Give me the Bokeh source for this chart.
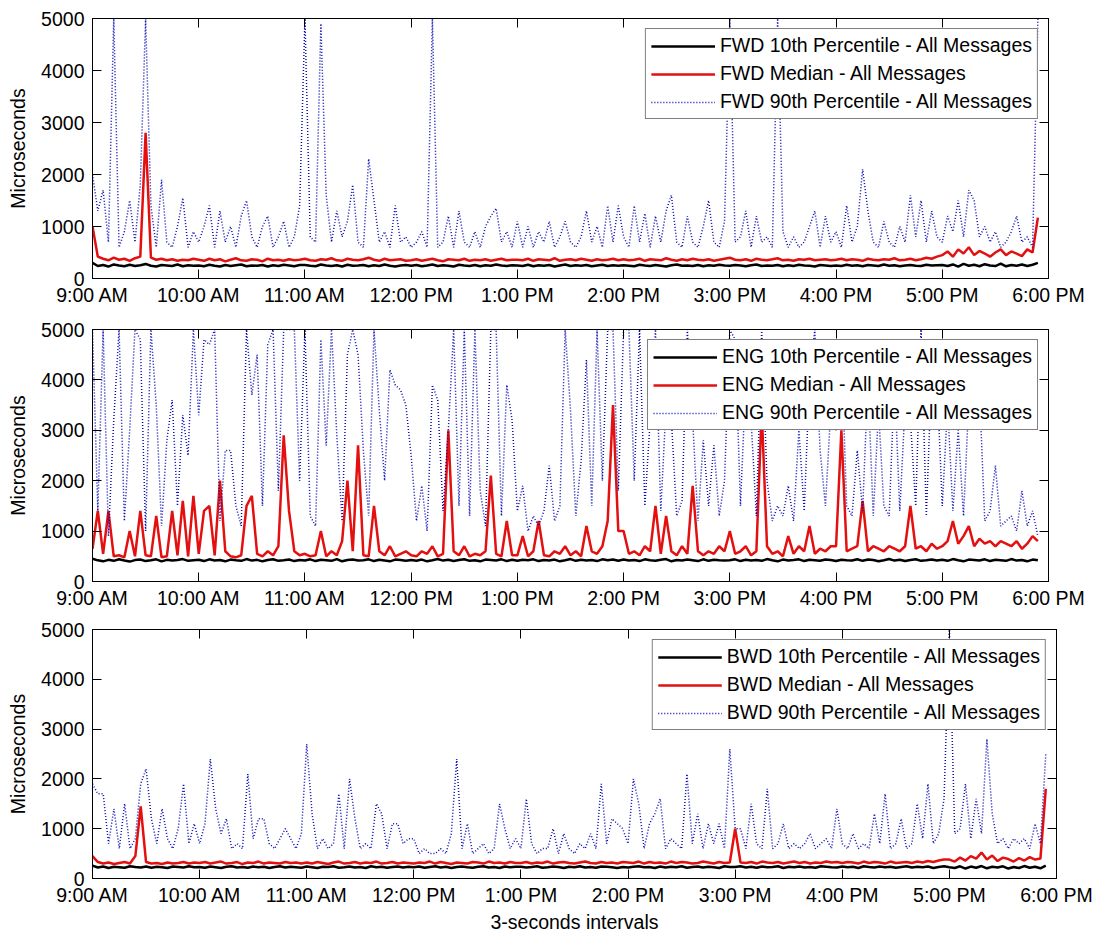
import numpy as np
from bokeh.plotting import figure
from bokeh.layouts import column
from bokeh.models import FixedTicker, LinearAxis, Legend, LegendItem, Range1d
from bokeh.embed import file_html
from bokeh.resources import INLINE

# ---------------- data ----------------
TICK_HOURS = [9, 10, 11, 12, 13, 14, 15, 16, 17, 18]
TICK_LABELS = ["9:00 AM", "10:00 AM", "11:00 AM", "12:00 PM", "1:00 PM",
               "2:00 PM", "3:00 PM", "4:00 PM", "5:00 PM", "6:00 PM"]
Y_TICKS = [0, 1000, 2000, 3000, 4000, 5000]
START_HOUR = 9
SLOT_MINUTES = 3  # one value read per 3-minute slot

FWD_P10 = [300,240,260,230,270,250,235,265,240,255,280,245,230,260,250,240,270,235,255,245,
           250,235,265,245,230,260,240,255,270,235,250,245,260,230,255,240,265,250,235,260,
           260,245,235,270,250,240,255,230,265,245,250,260,235,255,240,270,245,230,250,260,
           245,260,235,250,270,240,255,245,230,265,250,240,260,235,255,245,270,250,240,255,
           250,240,265,235,255,245,260,230,250,270,240,255,245,260,235,250,265,240,255,245,
           255,245,235,265,250,240,260,245,230,255,270,245,250,240,260,235,255,245,265,250,
           245,260,250,235,255,270,240,250,245,260,235,255,240,265,250,245,230,260,250,240,
           250,240,265,245,255,235,260,250,240,270,245,255,235,250,260,245,240,265,250,255,
           260,240,270,230,280,245,265,235,275,250,240,285,235,260,245,270,240,265,300]
FWD_MED = [1000,420,380,350,400,360,380,340,390,420,2800,400,360,380,350,370,340,360,350,380,
           360,340,380,350,370,330,360,390,350,340,370,360,330,380,350,360,340,370,350,360,
           380,350,340,370,360,390,350,340,380,360,350,370,400,360,340,380,350,360,370,340,
           350,370,340,360,380,350,330,370,360,350,380,340,360,350,370,340,360,380,350,360,
           360,350,380,340,370,360,350,390,340,360,370,350,380,360,340,370,350,360,380,350,
           370,350,360,380,340,370,360,350,390,360,340,370,350,380,360,350,370,340,360,380,
           400,360,350,370,340,380,360,350,370,390,350,360,340,370,360,380,350,360,370,350,
           360,380,350,370,360,340,380,360,350,370,360,390,350,360,380,350,370,400,380,420,
           450,520,420,560,480,600,450,530,480,420,500,560,450,520,480,430,560,500,1170]
FWD_P90 = [2000,1300,1700,700,5000,600,900,1500,700,1800,5000,1400,600,1900,700,600,1000,1550,600,900,
           700,1000,1400,600,1300,700,1000,600,1200,1500,800,600,1000,1200,600,800,1100,600,800,1400,
           5000,800,700,4900,1600,700,1300,800,1100,1800,700,600,2300,1500,700,900,600,1400,700,800,
           600,700,900,600,5000,600,700,1200,600,1300,700,600,900,600,1000,1200,1350,700,900,600,
           1100,600,1000,600,900,700,1100,600,800,1100,700,600,800,1300,700,1000,600,1400,700,1400,
           800,600,1400,700,1250,600,1200,700,1300,1600,700,600,1200,700,600,1000,1500,700,600,1100,
           5000,700,800,1300,600,1200,700,800,600,5000,900,600,800,600,700,1000,1300,600,1200,700,
           900,600,1400,700,1000,2100,1300,700,600,1100,700,600,1000,700,1600,800,1500,700,1300,800,
           700,1200,900,1500,800,1700,1500,800,1000,700,900,600,700,900,1200,700,800,600,5000]

ENG_P10 = [450,420,400,430,410,440,415,395,425,435,405,420,440,400,430,415,425,445,410,420,
           430,405,440,415,425,400,435,420,410,445,415,430,400,425,440,410,420,435,405,425,
           415,440,405,430,420,410,445,400,425,435,415,420,440,405,430,415,400,435,425,410,
           425,410,435,400,420,445,415,430,405,425,440,410,420,400,435,425,415,440,405,430,
           410,430,420,440,405,425,415,435,400,420,445,410,430,415,425,405,440,420,435,410,
           435,415,425,405,440,420,410,430,445,400,425,415,435,420,405,440,410,430,420,415,
           420,440,405,430,415,425,410,445,420,400,435,415,425,440,405,430,420,410,435,425,
           405,430,420,415,440,410,435,425,400,420,445,415,430,405,425,440,410,420,435,415,
           430,410,445,420,400,435,425,415,440,405,430,420,410,445,415,425,400,435,420]
ENG_MED = [650,1400,550,1400,500,520,480,1000,500,1400,520,500,1300,480,500,1400,520,1600,500,1700,
           550,1400,1500,520,2000,600,500,480,520,1500,1700,550,500,600,520,700,2900,1400,600,520,
           550,500,520,1000,500,600,520,800,2000,600,2700,520,500,1500,600,520,700,500,550,600,
           520,500,600,550,700,500,550,3000,600,520,700,500,550,520,600,2100,550,500,1200,520,
           520,900,500,600,1200,520,500,600,550,700,520,600,500,1100,600,550,700,1200,3500,1000,
           1000,550,600,520,700,600,1500,550,1300,600,520,700,550,1900,600,520,600,550,700,600,
           1000,550,600,700,520,600,3400,700,550,600,500,900,550,700,600,1100,550,650,600,700,
           700,3000,600,650,700,1600,600,700,650,600,700,650,600,700,1500,650,700,600,750,650,
           700,800,1200,750,900,1100,700,850,750,800,700,800,750,700,800,650,750,900,800]
ENG_P90 = [5000,1400,5000,900,3200,5000,1200,3000,5000,4800,1000,5000,3500,1100,2800,3600,1500,3300,2500,5000,
           3300,4800,4700,5000,1200,2600,2600,1500,1100,5000,3700,4500,1500,4700,5000,1800,5000,5000,5000,2000,
           5000,1300,1100,4800,2700,5000,2900,1200,4500,5000,4500,2600,1300,5000,3400,2000,4200,3900,3800,3500,
           2500,1200,1900,1000,3900,3600,1400,3000,5000,1500,5000,1300,5000,1800,1100,5000,5000,1300,3900,3200,
           1400,1900,1000,1300,1100,1400,2300,1200,1500,5000,3400,1300,2400,4400,1500,5000,2000,5000,5000,1800,
           5000,5000,2000,5000,1500,3200,5000,1400,3500,3200,1300,1600,5000,3200,1200,2800,1500,2700,1300,2000,
           5000,4800,1500,4000,3200,1300,5000,2000,1200,1500,1300,1900,1200,3000,1400,4000,5000,2600,1500,3400,
           3000,4600,1500,1300,2600,1400,4000,1300,3400,1500,1300,4000,1400,3500,3200,1500,5000,1300,4200,4000,
           1500,3500,1400,3000,1300,3600,4000,3800,1200,1400,2300,1100,1200,1300,1000,1800,1100,1400,900]

BWD_P10 = [260,220,240,210,235,225,215,245,230,220,240,215,235,225,210,240,230,220,245,225,
           230,215,240,225,210,235,245,220,230,215,240,225,235,210,230,245,220,235,225,215,
           240,225,210,235,230,245,215,225,240,220,230,210,245,225,235,215,230,240,220,235,
           225,240,215,230,245,220,235,210,230,240,225,215,235,245,220,230,210,240,225,235,
           235,220,230,245,215,225,240,230,210,235,225,245,220,230,215,240,235,225,210,230,
           220,235,245,225,230,210,240,220,235,225,245,215,230,240,220,235,225,210,245,230,
           230,245,220,235,215,240,225,230,245,210,235,225,240,220,230,215,245,235,225,220,
           240,225,235,210,245,230,220,240,225,235,215,230,245,220,235,225,240,210,230,245,
           225,210,245,200,240,215,250,205,235,220,245,200,230,210,250,215,235,205,260]
BWD_MED = [450,330,300,320,290,310,330,300,450,1450,330,300,310,290,320,300,310,330,300,320,
           310,330,300,320,340,300,310,330,290,320,310,340,300,320,310,300,330,310,320,300,
           320,300,330,310,290,320,340,300,310,330,300,320,310,340,300,310,330,300,320,310,
           300,320,310,340,300,330,310,290,320,310,300,330,320,300,340,310,320,300,330,310,
           310,330,300,320,310,340,300,320,330,310,300,320,340,310,300,330,310,320,300,330,
           320,310,340,300,330,310,320,300,340,310,330,320,300,310,340,320,300,330,310,320,
           1000,320,310,330,300,340,320,310,330,300,320,340,310,330,300,320,310,340,320,330,
           310,330,320,300,340,310,330,320,300,340,310,320,330,310,340,320,350,330,360,380,
           380,340,420,360,450,400,520,380,460,350,420,390,340,410,360,430,380,400,1800]
BWD_P90 = [1900,1700,1700,700,1400,600,1500,600,800,1900,2200,1200,700,1400,800,600,1000,1900,700,1100,
           700,1100,2400,1400,900,1200,600,700,600,2100,800,1200,1200,700,600,800,1000,800,600,900,
           2700,1300,600,800,600,700,1700,600,2000,1200,600,700,600,1500,1300,600,1100,1100,700,800,
           800,500,600,500,500,600,500,900,2400,600,1100,500,600,700,500,600,1500,1000,600,800,
           600,1600,700,500,600,600,1000,500,900,600,500,700,600,900,600,1900,700,1200,1100,1000,
           700,2000,1500,600,1100,1300,1600,600,800,700,600,2100,700,1300,600,1100,700,1100,600,2600,
           1000,1000,600,1500,700,600,1800,600,700,1100,600,700,600,700,900,600,700,800,600,1400,
           700,600,900,600,700,600,1300,700,1700,600,700,1200,600,700,1500,800,1900,700,900,1600,
           5000,900,1000,1900,800,1600,900,2800,1300,700,800,600,800,700,800,600,1100,700,2500]

PANELS = [("FWD", FWD_P10, FWD_MED, FWD_P90),
          ("ENG", ENG_P10, ENG_MED, ENG_P90),
          ("BWD", BWD_P10, BWD_MED, BWD_P90)]

# ---------------- styling ----------------
FONT = "Liberation Sans"
FS = "19.5px"
BLACK = "#000000"
RED = "#e41010"
BLUE = "#0a0ab4"

# (left, right, top, frame_h, bottom, frame_w)
GEOM = [(92, 48, 18, 260, 32, 956),
        (92, 48, 19, 252, 39, 956),
        (86, 46, 9, 249, 58, 964)]


def slot_times(n):
    return START_HOUR + np.arange(n) * SLOT_MINUTES / 60.0


def style_axis(ax, labels=True):
    ax.major_tick_in = 9
    ax.major_tick_out = 0
    ax.minor_tick_line_color = None
    ax.axis_line_color = BLACK
    ax.major_tick_line_color = BLACK
    ax.major_label_text_font = FONT
    if labels:
        ax.major_label_text_font_size = FS
        ax.major_label_text_color = BLACK
    else:
        # tick marks only (MATLAB box ticks), no labels drawn
        ax.major_label_text_font_size = "1px"
        ax.major_label_text_color = None
        ax.major_label_standoff = 0


def make_panel(i, name, p10, med, p90):
    left, right, top, fh, bottom, fw = GEOM[i]
    p = figure(frame_width=fw, frame_height=fh,
               min_border_left=left, min_border_right=right,
               min_border_top=top, min_border_bottom=bottom,
               x_range=Range1d(9, 18), y_range=Range1d(0, 5000),
               output_backend="svg", toolbar_location=None,
               background_fill_color="white", border_fill_color="white")
    p.grid.visible = False
    p.outline_line_color = BLACK
    p.outline_line_width = 1

    r1 = p.line(slot_times(len(p10)), p10, line_color=BLACK, line_width=2.5)
    r2 = p.line(slot_times(len(med)), med, line_color=RED, line_width=2.5)
    r3 = p.line(slot_times(len(p90)), p90, line_color=BLUE, line_width=1.5,
                line_dash="1 2")

    xa = p.xaxis[0]
    xa.ticker = FixedTicker(ticks=TICK_HOURS)
    xa.major_label_overrides = {h: lab for h, lab in zip(TICK_HOURS, TICK_LABELS)}
    style_axis(xa)
    xa.major_label_standoff = 5
    ya = p.yaxis[0]
    ya.ticker = FixedTicker(ticks=Y_TICKS)
    style_axis(ya)
    ya.major_label_standoff = 8
    ya.axis_label = "Microseconds"
    ya.axis_label_text_font = FONT
    ya.axis_label_text_font_size = FS
    ya.axis_label_text_font_style = "normal"
    ya.axis_label_text_color = BLACK
    ya.axis_label_standoff = 9
    if i == 2:
        xa.axis_label = "3-seconds intervals"
        xa.axis_label_text_font = FONT
        xa.axis_label_text_font_size = FS
        xa.axis_label_text_font_style = "normal"
        xa.axis_label_text_color = BLACK
        xa.axis_label_standoff = 2

    top_ax = LinearAxis(ticker=FixedTicker(ticks=TICK_HOURS))
    style_axis(top_ax, labels=False)
    p.add_layout(top_ax, "above")
    right_ax = LinearAxis(ticker=FixedTicker(ticks=Y_TICKS))
    style_axis(right_ax, labels=False)
    p.add_layout(right_ax, "right")

    legend = Legend(items=[
        LegendItem(label=f"{name} 10th Percentile - All Messages", renderers=[r1]),
        LegendItem(label=f"{name} Median - All Messages", renderers=[r2]),
        LegendItem(label=f"{name} 90th Percentile - All Messages", renderers=[r3]),
    ], location="top_right")
    legend.label_text_font = FONT
    legend.label_text_font_size = FS
    legend.label_text_color = BLACK
    legend.glyph_width = 64
    legend.glyph_height = 20
    legend.label_height = 20
    legend.label_standoff = 5
    legend.spacing = 5
    legend.padding = 5
    legend.margin = 10
    legend.border_line_color = BLACK
    legend.border_line_width = 1
    legend.background_fill_color = "white"
    legend.background_fill_alpha = 1.0
    p.add_layout(legend)
    return p


plots = [make_panel(i, *panel) for i, panel in enumerate(PANELS)]
layout = column(*plots, spacing=0)

open("out.html", "w").write(file_html(layout, INLINE))
